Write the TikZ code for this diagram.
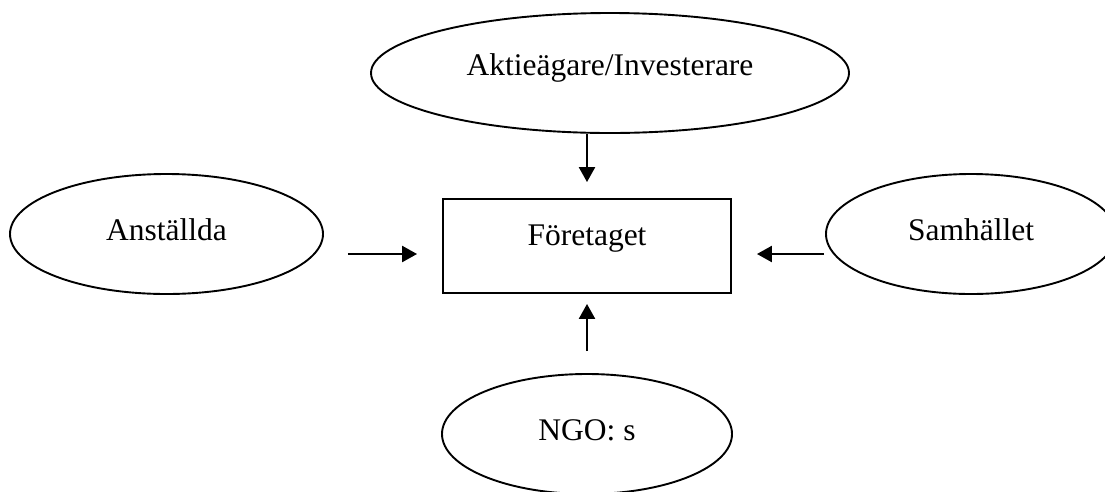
\documentclass[tikz,border=0pt]{standalone}
\usepackage{fontspec}
\setmainfont{Liberation Serif}
\usetikzlibrary{shapes.geometric,arrows.meta}
\begin{document}
\begin{tikzpicture}[x=1pt,y=-1pt,
  every node/.style={font=\fontsize{31.5}{36}\selectfont},
  ent/.style={draw, ellipse, line width=1.9pt, inner sep=0pt, minimum height=120pt},
  boxst/.style={draw, rectangle, line width=1.9pt, inner sep=0pt, minimum width=288pt, minimum height=94pt},
  txt/.style={anchor=base, inner sep=0pt},
  arr/.style={line width=2.4pt, -{Triangle[length=15pt,width=16pt]}}
]
\useasboundingbox (0,0) rectangle (1105,491);
\node[boxst, label={[txt, yshift=7pt]center:Företaget}] (box) at (587,246) {};
\node[ent, minimum width=478pt, label={[txt, yshift=5pt]center:Aktieägare/Investerare}] (share) at (610,73) {};
\node[ent, minimum width=313pt, label={[txt, yshift=4pt]center:Anställda}] (anst) at (166.5,234) {};
\node[ent, minimum width=290pt, label={[txt, yshift=4pt]center:Samhället}] (samh) at (971,234) {};
\node[ent, minimum width=290pt, label={[txt, yshift=4pt]center:NGO: s}] (ngo) at (587,434) {};
\draw[arr, shorten >=16pt] (box.north |- share.south) -- (box.north);
\draw[arr, shorten <=24pt, shorten >=25pt] ([yshift=-20pt]anst.east) -- ([yshift=-8pt]box.west);
\draw[arr, shorten <=1pt, shorten >=25pt] ([yshift=-20pt]samh.west) -- ([yshift=-8pt]box.east);
\draw[arr, shorten <=22pt, shorten >=10pt] (ngo.north) -- (box.south);
\end{tikzpicture}
\end{document}
